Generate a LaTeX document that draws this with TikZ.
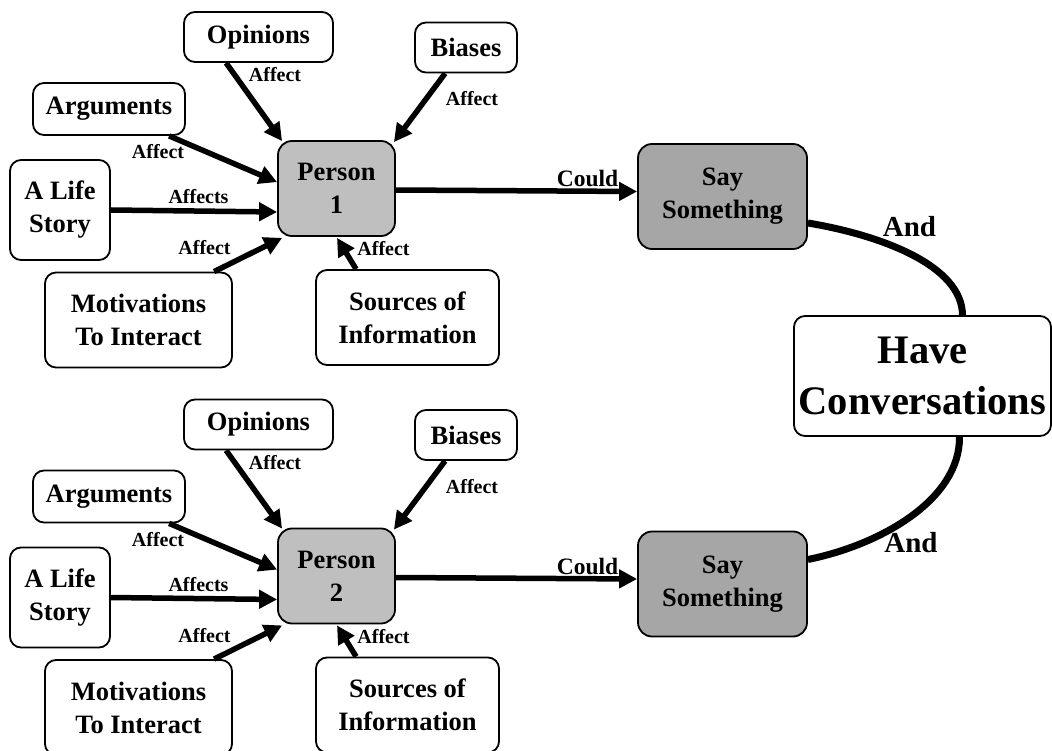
\documentclass[tikz,border=0pt]{standalone}
\usepackage{fontspec}
\setmainfont{Liberation Serif}
\usetikzlibrary{arrows.meta,calc}
\definecolor{pgray}{HTML}{BFBFBF}
\definecolor{sgray}{HTML}{A6A6A6}
\begin{document}
\begin{tikzpicture}[x=1pt,y=-1pt,
  box/.style={draw, line width=1.8pt, rounded corners=11pt, align=center, fill=white, inner sep=0pt,
    font=\bfseries\fontsize{26.5}{33}\selectfont},
  person/.style={box, fill=pgray, rounded corners=14pt, minimum width=117pt, minimum height=95pt},
  saybox/.style={box, fill=sgray, rounded corners=14pt, minimum width=169pt, minimum height=105pt},
  lab/.style={font=\bfseries\fontsize{20}{22}\selectfont, inner sep=0pt, anchor=base},
  could/.style={font=\bfseries\fontsize{23.5}{26}\selectfont, inner sep=0pt, anchor=base},
  andlab/.style={font=\bfseries\fontsize{29}{32}\selectfont, inner sep=0pt, anchor=base},
  arr/.style={line width=5.5pt, -{Triangle[length=18pt,width=18pt]}},
  link/.style={line width=7pt}
]
\useasboundingbox (0,0) rectangle (1052,751);

\foreach \g/\dy in {1/0,2/387.5}{
\begin{scope}[shift={(0,\dy)}]
  \node[person] (p\g) at (336.5,188.5) {Person\\\g};
  \node[box, minimum width=149pt, minimum height=50pt] (op\g) at (258.5,37) {Opinions};
  \node[box, minimum width=102pt, minimum height=50pt] (bi\g) at (466,47.5) {Biases};
  \node[box, minimum width=152pt, minimum height=52pt] (ar\g) at (109,109) {Arguments};
  \node[box, minimum width=100pt, minimum height=100pt] (ls\g) at (60,210) {A Life\\Story};
  \node[box, minimum width=187pt, minimum height=95pt] (mo\g) at (138.5,320) {Motivations\\To Interact};
  \node[box, minimum width=183pt, minimum height=95pt] (so\g) at (407.5,317.5) {Sources of\\Information};
  \node[saybox] (say\g) at (722.5,196.5) {Say\\Something};

  \draw[arr] ($(op\g.south west)+(43,0)$) -- ($(p\g.north west)+(5,1)$);
  \draw[arr] ($(bi\g.south west)+(31,0)$) -- ($(p\g.north east)+(-2,2)$);
  \draw[arr] ($(ar\g.south west)+(137,0)$) -- ($(p\g.north west)+(0,42)$);
  \draw[arr] (ls\g.east) -- ($(p\g.west)+(0,23.5)$);
  \draw[arr] ($(mo\g.north west)+(170,0)$) -- ($(p\g.south west)+(5,1)$);
  \draw[arr] ($(so\g.north west)+(41,0)$) -- ($(p\g.south)+(0.5,1)$);
  \draw[arr] ($(p\g.east)+(0,1.5)$) -- ($(say\g.west)+(0,-5)$);

  \node[lab] (la\g) at (275,82) {Affect};
  \node[lab] (lb\g) at (472,106) {Affect};
  \node[lab] (lc\g) at (158,159) {Affect};
  \node[lab] (ld\g) at (198.5,204) {Affects};
  \node[lab] (le\g) at (204.5,255) {Affect};
  \node[lab] (lf\g) at (383.5,256) {Affect};
  \node[could] (lg\g) at (587.5,187) {Could};
\end{scope}
}

\node[box, font=\bfseries\fontsize{40.5}{51}\selectfont, minimum width=257pt, minimum height=120pt] (hc) at (922.5,376) {Have\\Conversations};

\draw[link] ($(say1.east)+(0,26.5)$) .. controls (880,235) and (962,265) .. ($(hc.north)+(40,0)$);
\draw[link] ($(hc.south)+(37,0)$) .. controls (960,500) and (880,545) .. ($(say2.east)+(0,-24.5)$);

\node[andlab] (and1) at (909.5,237) {And};
\node[andlab] (and2) at (911,552) {And};
\end{tikzpicture}
\end{document}
